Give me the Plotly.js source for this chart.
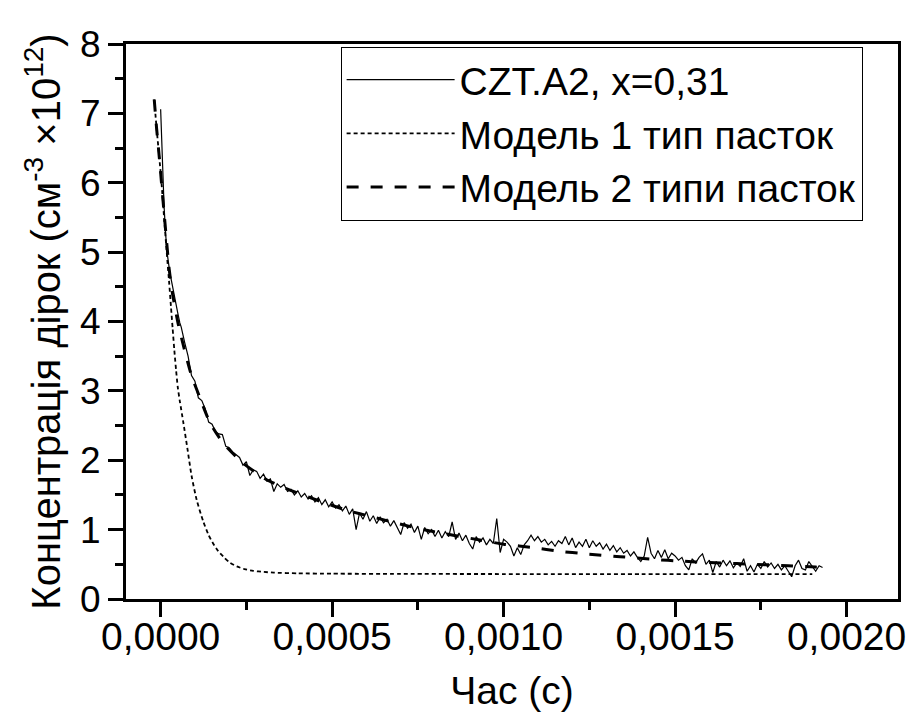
<!DOCTYPE html>
<html>
<head>
<meta charset="utf-8">
<script src="https://cdn.plot.ly/plotly-3.0.1.min.js"></script>
<style>html,body{margin:0;padding:0;background:#fff;}#chart{width:912px;height:720px;}</style>
</head>
<body>
<div id="chart"></div>
<script>
// time in microseconds (converted to seconds for plotting)
const dataTimeUs = [0,3,6,10,15,20,27,35,40,45,50,56,
60,70,80,90,100,110,120,130,140,150,160,170,180,190,200,210,220,230,240,250,260,270,280,290,
300,310,320,330,340,350,360,370,380,390,400,410,420,430,440,450,460,470,480,490,
500,510,520,530,540,550,560,570,580,590,600,610,620,630,640,650,660,670,680,690,
700,710,720,730,740,750,760,770,780,790,800,810,820,830,840,850,860,870,880,890,
900,910,920,930,940,950,960,970,980,990,1000,1010,1020,1030,1040,1050,1060,1070,1080,1090,
1100,1110,1120,1130,1140,1150,1160,1170,1180,1190,1200,1210,1220,1230,1240,1250,1260,1270,1280,1290,
1300,1310,1320,1330,1340,1350,1360,1370,1380,1390,1400,1410,1420,1430,1440,1450,1460,1470,1480,1490,
1500,1510,1520,1530,1540,1550,1560,1570,1580,1590,1600,1610,1620,1630,1640,1650,1660,1670,1680,1690,
1700,1710,1720,1730,1740,1750,1760,1770,1780,1790,1800,1810,1820,1830,1840,1850,1860,1870,1880,1890,
1900,1910,1920,1930];
const dataValues = [7.06,6.62,6.15,5.66,5.23,4.95,4.70,4.48,4.36,4.22,4.12,3.98,
3.92,3.70,3.50,3.22,3.14,2.90,2.86,2.74,2.55,2.52,2.41,2.38,2.37,2.20,2.18,2.12,2.08,2.04,1.93,1.98,1.78,1.86,1.84,1.74,
1.80,1.70,1.73,1.55,1.66,1.61,1.65,1.55,1.58,1.50,1.56,1.47,1.52,1.44,1.49,1.40,1.46,1.36,1.43,1.33,
1.40,1.31,1.36,1.27,1.34,1.22,1.30,1.00,1.24,1.15,1.26,1.12,1.20,1.09,1.18,1.10,1.15,1.05,1.13,1.04,
0.93,1.10,1.02,1.08,0.96,1.05,0.86,1.03,0.94,1.00,0.90,0.99,0.88,0.97,0.90,1.11,0.86,0.95,0.84,0.92,
0.80,0.72,0.90,0.82,0.88,0.78,0.86,0.80,1.16,0.67,0.86,0.82,0.76,0.62,0.74,0.64,0.78,0.84,0.92,0.84,
0.90,0.82,0.86,0.78,0.83,0.76,0.84,0.80,0.90,0.78,0.88,0.74,0.82,0.76,0.86,0.74,0.84,0.76,0.81,0.72,
0.79,0.70,0.77,0.68,0.74,0.66,0.70,0.62,0.68,0.60,0.54,0.62,0.89,0.66,0.58,0.70,0.60,0.71,0.58,0.66,
0.62,0.56,0.60,0.48,0.42,0.58,0.52,0.60,0.65,0.50,0.56,0.38,0.54,0.46,0.56,0.48,0.55,0.45,0.52,0.47,
0.58,0.40,0.48,0.39,0.50,0.44,0.54,0.46,0.52,0.44,0.50,0.42,0.48,0.40,0.32,0.48,0.56,0.44,0.42,0.54,
0.46,0.40,0.48,0.455];

const model1TimeUs = [-18.7,-11.7,-4,3,10,18,25,30,35,40,45,50,56,66,78,90,105,124,140,153,168,183,200,222,245,270,300,330,400,500,700,1000,1400,1900];
const model1Values = [7.2,6.78,6.37,5.97,5.5,4.98,4.55,4.22,3.9,3.58,3.3,3.05,2.85,2.55,2.17,1.78,1.43,1.12,0.92,0.80,0.69,0.61,0.53,0.47,0.43,0.405,0.39,0.38,0.37,0.365,0.362,0.36,0.36,0.36];

const model2TimeUs = [-18.7,-11.7,-4,3,10,18,25,35,51,69,90,113,144,182,240,309,377,464,542,620,698,775,853,931,1000,1090,1160,1240,1340,1440,1520,1600,1680,1760,1830,1910,1930];
const model2Values = [7.2,6.78,6.37,5.97,5.57,5.12,4.75,4.39,3.97,3.6,3.22,2.92,2.54,2.25,1.96,1.72,1.57,1.41,1.28,1.18,1.08,0.99,0.92,0.85,0.79,0.74,0.69,0.65,0.61,0.57,0.545,0.525,0.51,0.495,0.48,0.46,0.455];

const seriesNames = ['CZT.A2, x=0,31','Модель 1 тип пасток','Модель 2 типи пасток'];
const xTitle = 'Час (с)';
const yTitle = 'Концентрація дірок (см<sup>-3</sup> ×10<sup>12</sup>)';

const us = a => a.map(v => v * 1e-6);
const FONT = 'Liberation Sans, Arial, sans-serif';

const traces = [
  {x: us(dataTimeUs), y: dataValues, mode: 'lines', name: seriesNames[0],
   line: {color: '#000', width: 1.2}},
  {x: us(model1TimeUs), y: model1Values, mode: 'lines', name: seriesNames[1],
   line: {color: '#000', width: 1.8, dash: '4px,3px', shape: 'spline', smoothing: 0.6}},
  {x: us(model2TimeUs), y: model2Values, mode: 'lines', name: seriesNames[2],
   line: {color: '#000', width: 3, dash: '12px,12px', shape: 'spline', smoothing: 0.6}}
];

const layout = {
  width: 912, height: 720,
  margin: {l: 126, r: 14, t: 44, b: 121},
  paper_bgcolor: '#fff', plot_bgcolor: '#fff',
  separators: ', ',
  font: {family: FONT, color: '#000', size: 38},
  showlegend: true,
  legend: {x: 0.278, y: 0.995, xanchor: 'left', yanchor: 'top',
    bordercolor: '#000', borderwidth: 1, bgcolor: '#fff',
    font: {family: FONT, size: 39, color: '#000'}, itemwidth: 108, tracegroupgap: 0},
  xaxis: {
    range: [-0.000101, 0.00215], tickmode: 'linear', tick0: 0, dtick: 0.0005, tickformat: '.4f',
    showgrid: false, zeroline: false, showline: true, linecolor: '#000', linewidth: 3, mirror: true,
    ticks: 'outside', ticklen: 15, tickwidth: 3, tickcolor: '#000', ticklabelstandoff: -14,
    minor: {dtick: 0.00025, tick0: 0, ticks: 'outside', ticklen: 8, tickwidth: 3, tickcolor: '#000', showgrid: false},
    tickfont: {family: FONT, size: 39, color: '#000'},
    title: {text: xTitle, font: {family: FONT, size: 39, color: '#000'}, standoff: 20}
  },
  yaxis: {
    range: [0, 8], tickmode: 'linear', tick0: 0, dtick: 1,
    showgrid: false, zeroline: false, showline: true, linecolor: '#000', linewidth: 3, mirror: true,
    ticks: 'outside', ticklen: 15, tickwidth: 3, tickcolor: '#000',
    minor: {dtick: 0.5, tick0: 0, ticks: 'outside', ticklen: 8, tickwidth: 3, tickcolor: '#000', showgrid: false},
    tickfont: {family: FONT, size: 37, color: '#000'},
    title: {text: yTitle, font: {family: FONT, size: 40, color: '#000'}, standoff: 8}
  }
};

Plotly.newPlot('chart', traces, layout, {staticPlot: true, displayModeBar: false});
</script>
</body>
</html>
